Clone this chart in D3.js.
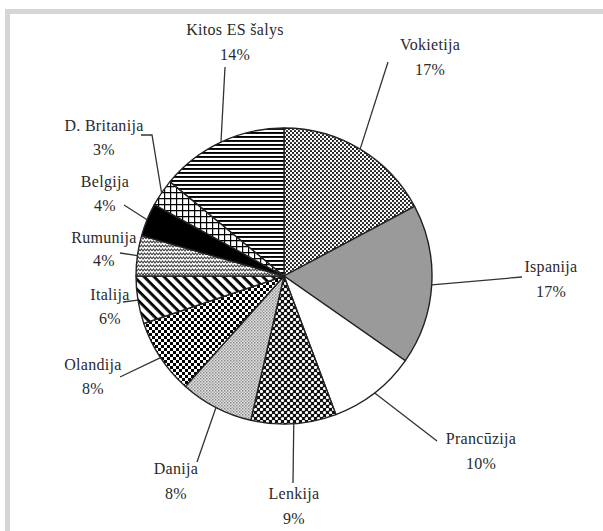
<!DOCTYPE html>
<html><head><meta charset="utf-8">
<script src="https://cdn.jsdelivr.net/npm/d3@7"></script>
<style>body{margin:0;background:#fff}svg{display:block}</style>
</head><body>
<svg id="c" width="603" height="531"></svg>
<script>
const countries = ["Vokietija","Ispanija","Prancūzija","Lenkija","Danija","Olandija","Italija","Rumunija","Belgija","D. Britanija","Kitos ES šalys"];
const shares = [17.2,17.5,9.6,9.3,8.0,8.2,5.2,4.4,3.6,3.0,14.0];
const shareLabels = ["17%","17%","10%","9%","8%","8%","6%","4%","4%","3%","14%"];
const fills = ["url(#pDots)","#9a9a9a","#ffffff","url(#pCircles)","url(#pFine)","url(#pChecker)","url(#pDiag)","url(#pZig)","#000000","url(#pGrid)","url(#pHoriz)"];
// label layout: [textX, nameBaseline, pctBaseline, leaderEndX, leaderEndY, elbowX(optional)]
const labelLayout = [
  [430, 50, 75, 388, 62],
  [551, 272, 297, 522, 277],
  [481, 444, 469, 437, 441],
  [294, 499, 524, 293, 483],
  [176, 474, 499, 197, 462],
  [93, 370, 394, 120, 377],
  [110, 300, 324, 123, 302],
  [104, 243, 266, 120, 253],
  [105, 187, 211, 124, 205],
  [104, 131, 155, 141, 135, 152],
  [235, 35, 60, 225, 67]
];

const svg = d3.select("#c");
const defs = svg.append("defs");
function pat(id, w, h, tf){ const p = defs.append("pattern").attr("id",id).attr("patternUnits","userSpaceOnUse").attr("width",w).attr("height",h); if(tf) p.attr("patternTransform",tf); return p; }
let p;
p = pat("pDots",4,4); p.append("rect").attr("width",4).attr("height",4).attr("fill","#fff");
p.append("circle").attr("cx",1).attr("cy",1).attr("r",1.1).attr("fill","#111");
p.append("circle").attr("cx",3).attr("cy",3).attr("r",1.1).attr("fill","#111");
p = pat("pCircles",6,6); p.append("rect").attr("width",6).attr("height",6).attr("fill","#111");
p.append("circle").attr("cx",1.5).attr("cy",1.5).attr("r",1.6).attr("fill","#fff");
p.append("circle").attr("cx",4.5).attr("cy",4.5).attr("r",1.6).attr("fill","#fff");
p = pat("pFine",3,3); p.append("rect").attr("width",3).attr("height",3).attr("fill","#e2e2e2");
p.append("rect").attr("width",1.5).attr("height",1.5).attr("fill","#8a8a8a");
p.append("rect").attr("x",1.5).attr("y",1.5).attr("width",1.5).attr("height",1.5).attr("fill","#a5a5a5");
p = pat("pChecker",6,6); p.append("rect").attr("width",6).attr("height",6).attr("fill","#fff");
p.append("rect").attr("width",3).attr("height",3).attr("fill","#000");
p.append("rect").attr("x",3).attr("y",3).attr("width",3).attr("height",3).attr("fill","#000");
p = pat("pDiag",7,7,"rotate(45)"); p.append("rect").attr("width",7).attr("height",7).attr("fill","#fff");
p.append("rect").attr("width",7).attr("height",2.8).attr("fill","#000");
p = pat("pZig",6,4); p.append("rect").attr("width",6).attr("height",4).attr("fill","#fff");
p.append("path").attr("d","M0,3 L1.5,1 L3,3 L4.5,1 L6,3").attr("fill","none").attr("stroke","#444").attr("stroke-width",1.1);
p = pat("pGrid",6,6); p.append("rect").attr("width",6).attr("height",6).attr("fill","#fff");
p.append("path").attr("d","M0,0.6 H6 M0.6,0 V6").attr("stroke","#000").attr("stroke-width",1.2);
p = pat("pHoriz",4,4); p.append("rect").attr("width",4).attr("height",4).attr("fill","#fff");
p.append("rect").attr("y",0).attr("width",4).attr("height",1.9).attr("fill","#000");

// frame
svg.append("rect").attr("x",5).attr("y",9).attr("width",598).attr("height",5).attr("fill","#d6d6d6");
svg.append("rect").attr("x",5).attr("y",9).attr("width",5).attr("height",522).attr("fill","#d6d6d6");

const cx = 284, cy = 276, R = 148;
const data = countries.map((c,i)=>({name:c, value:shares[i], label:shareLabels[i], fill:fills[i], lay:labelLayout[i]}));
const pie = d3.pie().value(d=>d.value).sort(null);
const arcs = pie(data);
const arc = d3.arc().innerRadius(0).outerRadius(R);
const g = svg.append("g").attr("transform",`translate(${cx},${cy})`);
g.selectAll("path.s").data(arcs).join("path").attr("class","s")
  .attr("d",arc).attr("fill",d=>d.data.fill).attr("stroke","#222").attr("stroke-width",1.4).attr("stroke-linejoin","round");

// leaders
arcs.forEach(a=>{
  const m = (a.startAngle+a.endAngle)/2;
  const px = cx + R*Math.sin(m), py = cy - R*Math.cos(m);
  const L = a.data.lay;
  let pts = [[px,py]];
  if (L[5] !== undefined) pts.push([L[5], L[4]]);
  pts.push([L[3], L[4]]);
  svg.append("path").attr("d", d3.line()(pts)).attr("fill","none").attr("stroke","#333").attr("stroke-width",1.3);
});

const lab = svg.append("g").attr("font-family","'Liberation Serif', serif").attr("font-size",16).attr("letter-spacing",0.3).attr("fill","#2a2a2a").attr("text-anchor","middle");
data.forEach(d=>{
  lab.append("text").attr("x",d.lay[0]).attr("y",d.lay[1]).text(d.name);
  lab.append("text").attr("x",d.lay[0]).attr("y",d.lay[2]).text(d.label);
});
</script>
</body></html>
